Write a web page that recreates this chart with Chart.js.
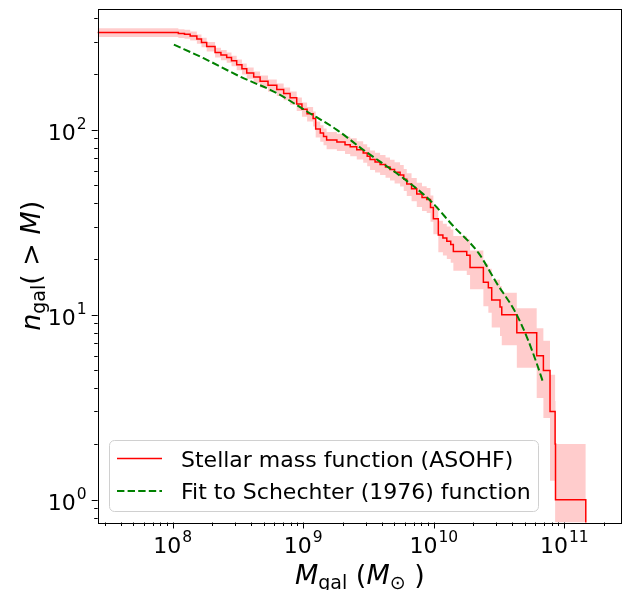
<!DOCTYPE html>
<html>
<head>
<meta charset="utf-8">
<script src="https://cdn.jsdelivr.net/npm/chart.js@4.4.0/dist/chart.umd.min.js"></script>
<style>
    html, body { margin: 0; padding: 0; background: #fff; }
    #wrap { width: 623px; height: 590px; position: relative; }
</style>
</head>
<body>
<div id="wrap"><canvas id="chartSMF"></canvas></div>
<script>
// cumulative stellar mass function, n(>M) (step starts at each mass)
const smfMass = [2.0e7, 1.104e8, 1.23e8, 1.36e8, 1.53e8, 1.66e8, 1.82e8, 2.11e8, 2.34e8, 2.59e8,
    2.82e8, 3.09e8, 3.39e8, 3.69e8, 4.17e8, 4.67e8, 5.37e8, 6.27e8, 7.08e8, 7.93e8,
    8.91e8, 9.77e8, 1.07e9, 1.19e9, 1.245e9, 1.35e9, 1.43e9, 1.51e9, 1.81e9, 2.09e9,
    2.29e9, 2.57e9, 2.88e9, 3.09e9, 3.25e9, 3.55e9, 3.88e9, 4.27e9, 4.62e9, 5.01e9,
    5.52e9, 5.89e9, 6.21e9, 6.76e9, 7.41e9, 8.13e9, 8.83e9, 9.44e9, 9.93e9, 1.084e10,
    1.175e10, 1.259e10, 1.349e10, 1.413e10, 1.79e10, 1.897e10, 2.40e10, 2.62e10, 2.78e10, 3.22e10,
    3.32e10, 4.33e10, 6.15e10, 6.92e10, 7.78e10, 8.51e10, 8.57e10, 1.462e11];
const smfCount = [336, 332, 329, 322, 310, 297, 282, 262, 254, 246,
    236, 225, 214, 203, 193, 183, 174, 165, 157, 149,
    138, 129, 122, 115, 101, 96, 92, 88, 86, 83,
    81, 78, 75, 72, 69, 67, 65, 63, 61, 59,
    57, 54, 51, 48, 45, 43, 42, 38, 33, 27,
    26, 25, 24, 22, 21, 18, 15, 14, 12, 11,
    10, 8, 6, 5, 3, 2, 1, 0];

// Schechter (1976) fit
const fitMass = [1.02e8, 1.72e8, 3.28e8, 6.27e8, 1.06e9, 1.81e9, 2.88e9, 5.85e9,
    9.38e9, 1.41e10, 2.20e10, 3.04e10, 4.20e10, 5.16e10, 6.15e10, 6.92e10];
const fitCount = [289, 244, 194, 158, 126, 100, 78, 54.7,
    41.5, 30.2, 21.6, 14.8, 10.4, 7.6, 5.46, 4.26];

const xTickExp = [8, 9, 10, 11];
const yTickExp = [0, 1, 2];
const legendLabels = ['Stellar mass function (ASOHF)', 'Fit to Schechter (1976) function'];

const FLOOR = 0.01; // log axis can't show 0, push it below the frame

var SMF_Chart = function () {

    const FONT = 'DejaVu Sans';

    function drawPow(ctx, x, y, exp, align) {
        // matplotlib style 10^n label, y is the baseline of "10"
        ctx.font = '22px "' + FONT + '"';
        let wBase = ctx.measureText('10').width;
        ctx.font = '15.5px "' + FONT + '"';
        let wExp = ctx.measureText(String(exp)).width;
        let w = wBase + wExp + 1;
        let x0 = align == 'center' ? x - w / 2 : x - w;
        ctx.textAlign = 'left';
        ctx.textBaseline = 'alphabetic';
        ctx.font = '22px "' + FONT + '"';
        ctx.fillText('10', x0, y);
        ctx.font = '15.5px "' + FONT + '"';
        ctx.fillText(String(exp), x0 + wBase + 1, y - 11);
    }

    // draws pieces [text, style, size, dy] one after another
    function drawRich(ctx, parts, x, y) {
        let cx = x;
        for (let p of parts) {
            ctx.font = p[1] + ' ' + p[2] + 'px "' + FONT + '"';
            ctx.fillText(p[0], cx, y + p[3]);
            cx += ctx.measureText(p[0]).width;
        }
        return cx - x;
    }
    function richWidth(ctx, parts) {
        let w = 0;
        for (let p of parts) {
            ctx.font = p[1] + ' ' + p[2] + 'px "' + FONT + '"';
            w += ctx.measureText(p[0]).width;
        }
        return w;
    }

    const axesDecor = {
        id: 'axesDecor',
        afterDraw: function (chart) {
            const ctx = chart.ctx;
            const ca = chart.chartArea;
            const xs = chart.scales.x;
            const ys = chart.scales.y;
            ctx.save();
            ctx.strokeStyle = '#000';
            ctx.fillStyle = '#000';
            ctx.lineWidth = 1;

            // ticks, major and minor
            ctx.beginPath();
            for (let e = 7; e <= 11; e++) {
                for (let k = 1; k <= 9; k++) {
                    let v = k * Math.pow(10, e);
                    if (v < xs.min || v > xs.max) continue;
                    let px = Math.round(xs.getPixelForValue(v)) + 0.5;
                    let len = (k == 1) ? 6 : 3.5;
                    ctx.moveTo(px, ca.bottom);
                    ctx.lineTo(px, ca.bottom + len);
                }
            }
            for (let e = -1; e <= 2; e++) {
                for (let k = 1; k <= 9; k++) {
                    let v = k * Math.pow(10, e);
                    if (v < ys.min || v > ys.max) continue;
                    let py = Math.round(ys.getPixelForValue(v)) + 0.5;
                    let len = (k == 1) ? 6 : 3.5;
                    ctx.moveTo(ca.left, py);
                    ctx.lineTo(ca.left - len, py);
                }
            }
            ctx.stroke();

            // frame
            ctx.strokeRect(Math.round(ca.left) + 0.5, Math.round(ca.top) + 0.5,
                Math.round(ca.right - ca.left) - 1, Math.round(ca.bottom - ca.top));

            // tick labels
            for (let e of xTickExp) {
                drawPow(ctx, xs.getPixelForValue(Math.pow(10, e)), ca.bottom + 30, e, 'center');
            }
            for (let e of yTickExp) {
                drawPow(ctx, ca.left - 11, ys.getPixelForValue(Math.pow(10, e)) + 10, e, 'right');
            }

            // axis titles
            ctx.textAlign = 'left';
            ctx.textBaseline = 'alphabetic';
            let xt = [['M', 'italic', 27, 0], ['gal', 'normal', 19, 5], [' (', 'normal', 27, 0],
                ['M', 'italic', 27, 0], ['\u2299', 'normal', 19, 5], [' )', 'normal', 27, 0]];
            let wx = richWidth(ctx, xt);
            drawRich(ctx, xt, (ca.left + ca.right) / 2 - wx / 2, 584);

            let yt = [['n', 'italic', 27, 0], ['gal', 'normal', 19, 5], ['( > ', 'normal', 27, 0],
                ['M', 'italic', 27, 0], [')', 'normal', 27, 0]];
            let wy = richWidth(ctx, yt);
            ctx.save();
            ctx.translate(40, (ca.top + ca.bottom) / 2);
            ctx.rotate(-Math.PI / 2);
            drawRich(ctx, yt, -wy / 2, 0);
            ctx.restore();

            // legend box inside the axes, lower left
            let bx = 109.5, by = 440.5, bw = 429, bh = 71, r = 5;
            ctx.beginPath();
            ctx.moveTo(bx + r, by);
            ctx.arcTo(bx + bw, by, bx + bw, by + bh, r);
            ctx.arcTo(bx + bw, by + bh, bx, by + bh, r);
            ctx.arcTo(bx, by + bh, bx, by, r);
            ctx.arcTo(bx, by, bx + bw, by, r);
            ctx.closePath();
            ctx.fillStyle = 'rgba(255,255,255,0.8)';
            ctx.fill();
            ctx.strokeStyle = '#d0d0d0';
            ctx.stroke();

            ctx.lineWidth = 1.5;
            ctx.strokeStyle = '#ff0000';
            ctx.beginPath();
            ctx.moveTo(117, 458.5);
            ctx.lineTo(162, 458.5);
            ctx.stroke();
            ctx.strokeStyle = '#008000';
            ctx.lineWidth = 2;
            ctx.setLineDash([7.4, 3.2]);
            ctx.beginPath();
            ctx.moveTo(117, 491);
            ctx.lineTo(162, 491);
            ctx.stroke();
            ctx.setLineDash([]);

            ctx.fillStyle = '#000';
            ctx.font = '22px "' + FONT + '"';
            ctx.fillText(legendLabels[0], 181, 466.5);
            ctx.fillText(legendLabels[1], 181, 499);
            ctx.restore();
        }
    };

    this.DrawChart = function () {
        let dataLine = [];
        let dataUpper = [];
        let dataLower = [];
        for (let i = 0; i < smfMass.length; i++) {
            let n = smfCount[i];
            dataLine.push({ x: smfMass[i], y: n > 0 ? n : FLOOR });
            // Poisson band
            dataUpper.push({ x: smfMass[i], y: n > 0 ? n + Math.sqrt(n) : FLOOR });
            let lo = n - Math.sqrt(n);
            dataLower.push({ x: smfMass[i], y: lo > 0 ? lo : FLOOR });
        }
        let dataFit = [];
        for (let i = 0; i < fitMass.length; i++) {
            dataFit.push({ x: fitMass[i], y: fitCount[i] });
        }

        let ctx = document.getElementById('chartSMF').getContext('2d');
        new Chart(ctx, {
            type: 'line',
            data: {
                datasets: [
                    {
                        label: legendLabels[1],
                        data: dataFit,
                        borderColor: '#008000',
                        borderWidth: 2,
                        borderDash: [7.4, 3.2],
                        pointRadius: 0,
                        fill: false,
                        cubicInterpolationMode: 'monotone'
                    },
                    {
                        label: legendLabels[0],
                        data: dataLine,
                        borderColor: '#ff0000',
                        borderWidth: 1.5,
                        pointRadius: 0,
                        stepped: 'before',
                        fill: false
                    },
                    {
                        label: 'upper',
                        data: dataUpper,
                        borderWidth: 0,
                        borderColor: 'rgba(0,0,0,0)',
                        backgroundColor: 'rgba(255,0,0,0.2)',
                        pointRadius: 0,
                        stepped: 'before',
                        fill: '+1'
                    },
                    {
                        label: 'lower',
                        data: dataLower,
                        borderWidth: 0,
                        borderColor: 'rgba(0,0,0,0)',
                        pointRadius: 0,
                        stepped: 'before',
                        fill: false
                    }
                ]
            },
            options: {
                responsive: true,
                maintainAspectRatio: false,
                animation: false,
                layout: { padding: { top: 9, right: 1, left: 0, bottom: 0 } },
                plugins: {
                    legend: { display: false },
                    tooltip: { enabled: false }
                },
                scales: {
                    x: {
                        type: 'logarithmic',
                        min: 2.66e7,
                        max: 2.77e11,
                        ticks: { display: false },
                        grid: { display: false },
                        border: { display: false },
                        afterFit: function (s) { s.height = 67.5; }
                    },
                    y: {
                        type: 'logarithmic',
                        min: 0.753,
                        max: 450,
                        ticks: { display: false },
                        grid: { display: false },
                        border: { display: false },
                        afterFit: function (s) { s.width = 97.7; }
                    }
                }
            },
            plugins: [axesDecor]
        });
    }
}

new SMF_Chart().DrawChart();
</script>
</body>
</html>
